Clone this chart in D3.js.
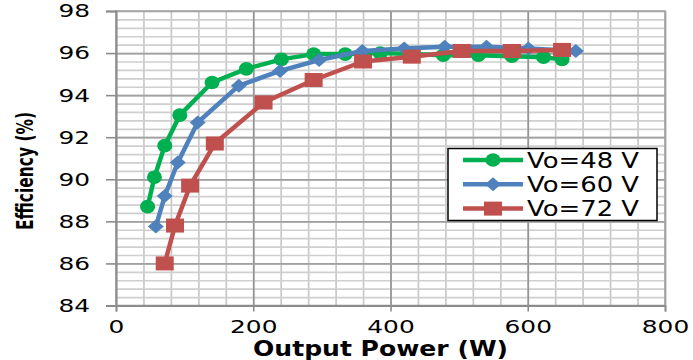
<!DOCTYPE html>
<html>
<head>
<meta charset="utf-8">
<script src="https://cdn.jsdelivr.net/npm/d3@7"></script>
<style>
  body { margin: 0; background: #fff; }
  svg { display: block; }
  .tick text { font-family: "DejaVu Sans", Verdana, sans-serif; font-size: 18.5px; fill: #000; }
</style>
</head>
<body>
<svg id="chart" width="693" height="360"></svg>
<script>
// data
const power48 = [46, 56, 71, 93, 140, 190, 241, 288, 334, 385, 431, 477, 528, 577, 623, 650];
const eff48   = [88.7, 90.1, 91.6, 93.05, 94.6, 95.25, 95.7, 95.95, 95.95, 96.0, 95.95, 95.9, 95.9, 95.85, 95.8, 95.7];
const power60 = [58, 71, 90, 119, 179, 239, 296, 359, 420, 479, 540, 601, 670];
const eff60   = [87.75, 89.2, 90.8, 92.7, 94.45, 95.15, 95.67, 96.1, 96.22, 96.3, 96.3, 96.22, 96.1];
const power72 = [71, 86, 108, 144, 215, 288, 360, 431, 504, 577, 650];
const eff72   = [86.0, 87.8, 89.7, 91.7, 93.65, 94.72, 95.6, 95.83, 96.1, 96.1, 96.15];

const seriesNames = ["Vo=48 V", "Vo=60 V", "Vo=72 V"];
const xTicks = [0, 200, 400, 600, 800];
const yTicks = [84, 86, 88, 90, 92, 94, 96, 98];

const colors = ["#00b050", "#4f81bd", "#c0504d"];
const shapes = ["circle", "diamond", "square"];

const series = [
  { name: seriesNames[0], pts: power48.map((p, i) => [p, eff48[i]]) },
  { name: seriesNames[1], pts: power60.map((p, i) => [p, eff60[i]]) },
  { name: seriesNames[2], pts: power72.map((p, i) => [p, eff72[i]]) }
];

const svg = d3.select("#chart");
const plotL = 116, plotR = 665, plotT = 11, plotB = 305.5;

const x = d3.scaleLinear().domain([0, 800]).range([plotL, plotR]);
const y = d3.scaleLinear().domain([84, 98]).range([plotB, plotT]);

// minor grid
const grid = svg.append("g");
grid.append("g")
  .attr("transform", "translate(0," + plotB + ")")
  .call(d3.axisBottom(x).tickValues(d3.range(40, 800, 40)).tickSize(-(plotB - plotT)).tickFormat(""))
  .call(g => g.select(".domain").remove())
  .call(g => g.selectAll("line").attr("stroke", "#c8c8c8").attr("stroke-width", 1.7));
grid.append("g")
  .attr("transform", "translate(" + plotL + ",0)")
  .call(d3.axisLeft(y).tickValues(d3.range(84.4, 98, 0.4)).tickSize(-(plotR - plotL)).tickFormat(""))
  .call(g => g.select(".domain").remove())
  .call(g => g.selectAll("line").attr("stroke", "#cfcfcf").attr("stroke-width", 1.7));

// major grid
grid.append("g")
  .attr("transform", "translate(0," + plotB + ")")
  .call(d3.axisBottom(x).tickValues(xTicks).tickSize(-(plotB - plotT)).tickFormat(""))
  .call(g => g.select(".domain").remove())
  .call(g => g.selectAll("line").attr("stroke", "#969696").attr("stroke-width", 1.7));
grid.append("g")
  .attr("transform", "translate(" + plotL + ",0)")
  .call(d3.axisLeft(y).tickValues(yTicks).tickSize(-(plotR - plotL)).tickFormat(""))
  .call(g => g.select(".domain").remove())
  .call(g => g.selectAll("line").attr("stroke", "#a0a0a0").attr("stroke-width", 1.7));

// plot border
svg.append("rect")
  .attr("x", plotL).attr("y", plotT)
  .attr("width", plotR - plotL).attr("height", plotB - plotT)
  .attr("fill", "none").attr("stroke", "#a6a6a6").attr("stroke-width", 1.6);

// axes
const xAxis = svg.append("g")
  .attr("transform", "translate(0," + plotB + ")")
  .call(d3.axisBottom(x).tickValues(xTicks).tickSize(6).tickPadding(8));
const yAxis = svg.append("g")
  .attr("transform", "translate(" + plotL + ",0)")
  .call(d3.axisLeft(y).tickValues(yTicks).tickSize(10).tickPadding(16));

[xAxis, yAxis].forEach(ax => {
  ax.select(".domain").attr("stroke", "#8c8c8c").attr("stroke-width", 1.8);
  ax.selectAll(".tick line").attr("stroke", "#8c8c8c").attr("stroke-width", 1.6);
  ax.selectAll(".tick text")
    .attr("textLength", d => String(d).length * 15.8)
    .attr("lengthAdjust", "spacingAndGlyphs");
});

// axis titles
svg.append("text")
  .attr("x", 253).attr("y", 356)
  .attr("textLength", 255).attr("lengthAdjust", "spacingAndGlyphs")
  .style("font-family", "'DejaVu Sans', Verdana, sans-serif")
  .style("font-weight", "bold").style("font-size", "21px")
  .text("Output Power (W)");

svg.append("text")
  .attr("transform", "translate(33,171) rotate(-90)")
  .attr("text-anchor", "middle")
  .attr("textLength", 118).attr("lengthAdjust", "spacingAndGlyphs")
  .style("font-family", "'Liberation Sans Narrow', 'DejaVu Sans Condensed', 'DejaVu Sans', sans-serif")
  .style("font-weight", "bold").style("font-size", "23px")
  .text("Efficiency (%)");

function drawMarker(sel, shape, color) {
  if (shape === "circle") {
    sel.append("ellipse").attr("rx", 7.5).attr("ry", 6.8).attr("fill", color);
  } else if (shape === "diamond") {
    sel.append("path").attr("d", "M0,-7 L8,0 L0,7 L-8,0 Z").attr("fill", color);
  } else {
    sel.append("rect").attr("x", -9).attr("y", -7).attr("width", 18).attr("height", 14).attr("fill", color);
  }
}

const line = d3.line().x(d => x(d[0])).y(d => y(d[1]));

series.forEach((s, i) => {
  const g = svg.append("g");
  g.append("path")
    .datum(s.pts)
    .attr("d", line)
    .attr("fill", "none")
    .attr("stroke", colors[i])
    .attr("stroke-width", 4.5)
    .attr("stroke-linejoin", "round");
  g.selectAll("g.pt")
    .data(s.pts)
    .join("g")
    .attr("class", "pt")
    .attr("transform", d => "translate(" + x(d[0]) + "," + y(d[1]) + ")")
    .each(function() { drawMarker(d3.select(this), shapes[i], colors[i]); });
});

// legend
const legend = svg.append("g");
legend.append("rect")
  .attr("x", 448).attr("y", 148.5)
  .attr("width", 209).attr("height", 72)
  .attr("fill", "#fff").attr("stroke", "#000").attr("stroke-width", 1.5);

series.forEach((s, i) => {
  const row = legend.append("g").attr("transform", "translate(0," + (160 + i * 24.3) + ")");
  row.append("line")
    .attr("x1", 463).attr("x2", 523)
    .attr("stroke", colors[i]).attr("stroke-width", 4.5);
  drawMarker(row.append("g").attr("transform", "translate(493,0)"), shapes[i], colors[i]);
  row.append("text")
    .attr("x", 527).attr("y", 7.5)
    .attr("textLength", 112).attr("lengthAdjust", "spacingAndGlyphs")
    .style("font-family", "'DejaVu Sans', Verdana, sans-serif")
    .style("font-size", "20.5px")
    .text(s.name);
});
</script>
</body>
</html>
